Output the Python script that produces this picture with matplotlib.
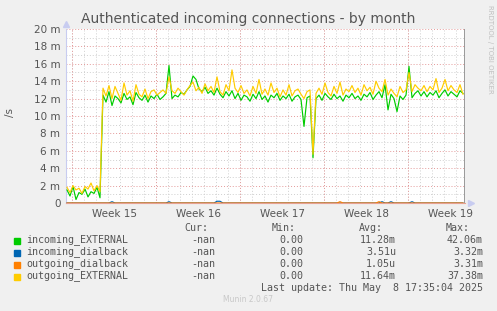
import numpy as np
import matplotlib
matplotlib.use("Agg")
import matplotlib.pyplot as plt

W, H = 497, 311

# Samples every 3 px across the graph, starting one px in (values in milli/s)
n_samples = 133
incoming_external = [
    1.5, 0.8, 1.9, 0.4, 1.2, 1.0, 1.6, 0.7, 1.3, 1.1, 1.8, 0.6,
    12.4, 11.6, 12.8, 11.2, 12.3, 12.0, 11.5, 12.6, 11.9, 12.2, 11.3, 12.7,
    12.1, 11.8, 12.4, 11.6, 12.3, 12.0, 12.5, 11.9, 12.2, 12.6, 15.8, 12.0,
    12.4, 12.2, 12.7, 12.5, 13.0, 13.4, 14.6, 14.2, 13.1, 12.8, 13.3, 12.6,
    12.9, 12.4, 13.2, 12.5, 12.1, 12.8, 12.3, 12.9, 12.0, 12.6, 11.8, 12.4,
    12.2, 11.7, 12.5, 12.0, 12.8, 11.9, 12.3, 11.6, 12.4, 12.1, 12.6, 11.8,
    12.3, 12.0, 12.5, 11.7, 12.2, 12.4, 11.9, 8.8, 12.1, 12.3, 5.2, 12.0,
    12.4, 11.8, 12.6, 12.2, 11.9, 12.5, 12.0, 12.3, 11.7, 12.4, 12.1, 12.6,
    12.0, 12.3, 11.8, 12.5, 12.2, 12.7, 11.9, 12.4, 12.8, 12.1, 13.6, 10.7,
    12.5, 12.0, 10.5, 12.3, 11.9, 12.4, 15.7, 12.1, 12.6, 12.9, 12.3, 12.8,
    12.2, 12.7, 12.4, 12.9, 12.1, 12.6, 13.0, 12.3, 12.8, 12.5, 12.2, 12.9, 12.6,
]
outgoing_external = [
    1.8, 1.2, 2.0, 1.5, 1.7, 1.1, 1.9, 1.6, 2.3, 1.4, 2.0, 1.3,
    13.2, 12.3, 13.5, 12.0, 13.4, 12.6, 11.8, 13.8, 12.4, 12.9, 11.7, 13.6,
    12.5, 12.2, 13.1, 12.0, 12.8, 13.0, 12.4, 12.7, 13.0, 12.6, 14.5, 12.9,
    12.6, 13.2, 12.8, 12.4, 13.0, 13.5, 13.9, 12.9, 13.3, 12.6, 13.7, 12.9,
    13.4, 12.7, 14.5, 12.8, 12.4, 13.6, 12.9, 15.3, 13.2, 12.7, 13.5, 12.6,
    13.0, 12.3, 13.4, 12.6, 14.2, 12.5, 13.1, 12.4, 13.8, 12.7, 13.2, 12.2,
    13.0, 12.4, 13.6, 12.3, 12.9, 13.1, 12.5, 12.0, 12.8, 13.0, 5.6, 12.6,
    13.2, 12.5, 13.8, 12.7, 12.3, 13.4, 12.6, 13.9, 12.4, 13.1, 12.8, 13.5,
    12.7, 13.2, 12.4, 13.6, 12.9, 13.3, 12.5, 14.0, 13.2, 12.8, 14.2, 12.4,
    13.1, 12.6, 12.2, 13.4, 12.7, 13.0, 15.0, 12.8, 13.6, 13.2, 12.9, 13.5,
    12.8, 13.4, 13.0, 14.3, 12.7, 13.2, 14.2, 12.9, 13.5, 13.0, 12.7, 13.6, 12.5,
]
# dialback series are zero except a few tiny blips (sample index: value)
incoming_dialback_blips = {15: 0.15, 34: 0.15, 50: 0.2, 51: 0.2, 105: 0.15, 108: 0.15, 115: 0.15}
outgoing_dialback_blips = {91: 0.15, 104: 0.15}

week_labels = ["Week 15", "Week 16", "Week 17", "Week 18", "Week 19"]
yticks = [0, 2, 4, 6, 8, 10, 12, 14, 16, 18, 20]

legend_names = ["incoming_EXTERNAL", "incoming_dialback", "outgoing_dialback", "outgoing_EXTERNAL"]
legend_colors = ["#00cc00", "#0066b3", "#ff8000", "#ffcc00"]
cur_vals = ["-nan", "-nan", "-nan", "-nan"]
min_vals = ["0.00", "0.00", "0.00", "0.00"]
avg_vals = ["11.28m", "3.51u", "1.05u", "11.64m"]
max_vals = ["42.06m", "3.32m", "3.31m", "37.38m"]

# x in days, 12 px per day
t = (1 + 3 * np.arange(n_samples)) / 12.0
in_dial = np.zeros(n_samples)
for k, v in incoming_dialback_blips.items():
    in_dial[k] = v
out_dial = np.zeros(n_samples)
for k, v in outgoing_dialback_blips.items():
    out_dial[k] = v

fig = plt.figure(figsize=(W / 100, H / 100), dpi=100, facecolor="#f0f0f0")
ax = fig.add_axes([66 / W, 1 - 203 / H, 399 / W, 174 / H], facecolor="white")

xmax = 399 / 12.0
ax.set_xlim(0, xmax)
ax.set_ylim(0, 20)

# grid: minor grey every day / 1 m, major red every week / 2 m
for d in np.arange(0.5, xmax, 1.0):
    ax.axvline(d, color="#cfcfcf", lw=0.7, ls=(0, (1, 2)), zorder=1)
for y in range(1, 20, 2):
    ax.axhline(y, color="#cfcfcf", lw=0.7, ls=(0, (1, 2)), zorder=1)
for d in np.arange(0.5, xmax, 7.0):
    ax.axvline(d, color="#e49a9a", lw=0.7, ls=(0, (1, 2)), zorder=1.5)
for y in yticks[1:]:
    ax.axhline(y, color="#e49a9a", lw=0.7, ls=(0, (1, 2)), zorder=1.5)

ax.plot(t, incoming_external, color=legend_colors[0], lw=0.85, zorder=3)
ax.plot(t, in_dial, color=legend_colors[1], lw=0.85, zorder=3)
ax.plot(t, out_dial, color=legend_colors[2], lw=0.85, zorder=3)
ax.plot(t, outgoing_external, color=legend_colors[3], lw=0.85, zorder=3)

ax.axvline(xmax - 0.02, color="#888888", lw=1.2, zorder=4)

for s in ["top", "right"]:
    ax.spines[s].set_visible(False)
ax.spines["left"].set_color("#c8ccf0")
ax.spines["bottom"].set_color("#e8a090")
ax.spines["left"].set_linewidth(0.8)
ax.spines["bottom"].set_linewidth(0.8)
# axis arrows
ax.plot([0], [20.6], marker="^", color="#c8ccf0", ms=4, clip_on=False, zorder=5)
ax.plot([xmax + 0.5], [0], marker=">", color="#c8ccf0", ms=4, clip_on=False, zorder=5)

ax.set_yticks(yticks)
ax.set_yticklabels(["0"] + ["%d m" % v for v in yticks[1:]])
ax.set_xticks(np.arange(4, xmax, 7.0))
ax.set_xticklabels(week_labels)
ax.tick_params(axis="both", length=0, labelsize=7.5, colors="#555555", pad=4)

def px(x, y, s, **kw):
    fig.text(x / W, 1 - y / H, s, **kw)

px(248, 19, "Authenticated incoming connections - by month", ha="center", va="center",
   fontsize=10, color="#555555")
px(10, 113, "/s", ha="center", va="center", rotation=90, fontsize=7.5, color="#555555")
px(490, 5, "RRDTOOL / TOBI OETIKER", ha="center", va="top", rotation=270,
   fontsize=5, color="#c0c0c0")

mono = dict(family="DejaVu Sans Mono", fontsize=7.2, color="#555555", va="center")
px(208, 228, "Cur:", ha="right", **mono)
px(296, 228, "Min:", ha="right", **mono)
px(383, 228, "Avg:", ha="right", **mono)
px(470, 228, "Max:", ha="right", **mono)
for i, name in enumerate(legend_names):
    y = 240 + 12 * i
    fig.patches.append(plt.Rectangle(((14) / W, 1 - (y + 3.5) / H), 6 / W, 6 / H,
                                     transform=fig.transFigure, color=legend_colors[i]))
    px(26, y, name, ha="left", **mono)
    px(215, y, cur_vals[i], ha="right", **mono)
    px(303, y, min_vals[i], ha="right", **mono)
    px(396, y, avg_vals[i], ha="right", **mono)
    px(483, y, max_vals[i], ha="right", **mono)
px(483, 288, "Last update: Thu May  8 17:35:04 2025", ha="right", **mono)
px(248, 300, "Munin 2.0.67", ha="center", va="center", fontsize=5.5, color="#c8c8c8")

fig.savefig("out.png", dpi=100, facecolor=fig.get_facecolor())
